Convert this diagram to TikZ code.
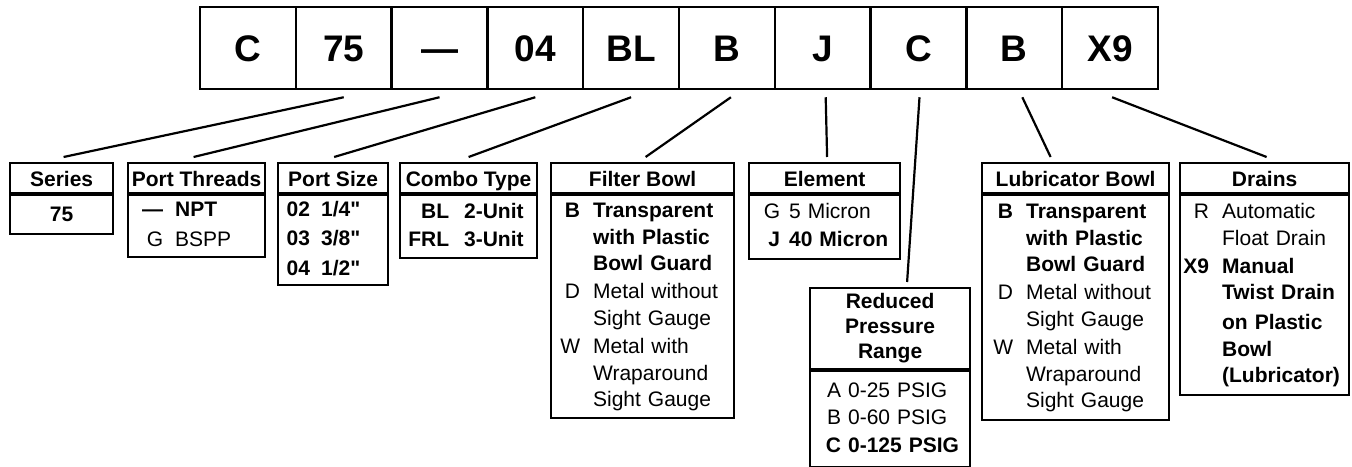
\documentclass[tikz,border=0pt]{standalone}
\usepackage{fontspec}
\setmainfont{Liberation Sans}[Ligatures=TeXOff]
\usepackage{array}
\usetikzlibrary{positioning}
\newcolumntype{R}[1]{>{\raggedleft\arraybackslash}p{#1}}
\newcommand\inchmark{\symbol{34}}

% rows shared by both bowl boxes
\newcommand\bowlrows{%
  \textbf{B} & \textbf{Transparent}\\
             & \textbf{with Plastic}\\
             & \textbf{Bowl Guard}\\[1.5pt]
  D & Metal without\\
    & Sight Gauge\\[1.5pt]
  W & Metal with\\
    & Wraparound\\
    & Sight Gauge}

\tikzset{
  codecell/.style={draw, line width=2.5pt, minimum width=95.8pt, minimum height=82pt,
    inner sep=0pt, text height=27pt, text depth=0pt, font=\fontsize{37}{37}\selectfont\bfseries},
  boxframe/.style={draw, line width=2.2pt, anchor=north west, minimum height=30pt,
    inner sep=0pt, align=center, font=\fontsize{21}{25}\selectfont\bfseries},
  boxhead/.style={boxframe, text height=17pt, text depth=0pt},
  boxbody/.style={draw, line width=2.2pt, anchor=north west, inner sep=0pt,
    align=left, font=\fontsize{21}{26.6}\selectfont},
  leader/.style={line width=2.2pt},
}

\begin{document}
\begin{tikzpicture}[x=1pt, y=-1pt]
	\useasboundingbox (0,0) rectangle (1352,466);

	% model code
	\foreach \t [count=\i] in {C,75,—,04,BL,B,J,C,B,X9}
		\node[codecell] (c\i) at ({200+95.8*(\i-0.5)},48) {\t};

	% series
	\node[boxhead, minimum width=103pt] (series) at (9,162) {Series};
	\node[boxbody, text width=103pt, minimum height=39pt, align=center] (seriesB) at (series.south west) {\textbf{75}};

	% port threads
	\node[boxhead, minimum width=137pt] (threads) at (127,162) {Port Threads};
	\node[boxbody, text width=137pt, minimum height=62pt] (threadsB) at (threads.south west) {%
		\begin{tabular}{@{}R{35pt}@{\hspace{12pt}}l@{}}
			\textbf{—} & \textbf{NPT}\\[3pt]
			G & BSPP
		\end{tabular}};

	% port size
	\node[boxhead, minimum width=110pt] (size) at (277,162) {Port Size};
	\node[boxbody, text width=110pt, minimum height=90pt] (sizeB) at (size.south west) {%
		\begin{tabular}{@{}R{32pt}@{\hspace{11pt}}l@{}}
			\textbf{02} & \textbf{1/4\inchmark}\\[3pt]
			\textbf{03} & \textbf{3/8\inchmark}\\[3pt]
			\textbf{04} & \textbf{1/2\inchmark}
		\end{tabular}};

	% combo type
	\node[boxhead, minimum width=137pt] (combo) at (399,162) {Combo Type};
	\node[boxbody, text width=137pt, minimum height=63pt] (comboB) at (combo.south west) {%
		\begin{tabular}{@{}R{49pt}@{\hspace{15pt}}l@{}}
			\textbf{BL} & \textbf{2-Unit}\\[1.5pt]
			\textbf{FRL} & \textbf{3-Unit}
		\end{tabular}};

	% filter bowl
	\node[boxhead, minimum width=183pt] (filter) at (550,162) {Filter Bowl};
	\node[boxbody, text width=183pt, minimum height=223pt] (filterB) at (filter.south west) {%
		\begin{tabular}{@{}R{29pt}@{\hspace{13pt}}l@{}}
			\bowlrows
		\end{tabular}};

	% element
	\node[boxhead, minimum width=151pt] (element) at (748,162) {Element};
	\node[boxbody, text width=151pt, minimum height=64pt] (elementB) at (element.south west) {%
		\begin{tabular}{@{}R{31pt}@{\hspace{9pt}}l@{}}
			G & 5 Micron\\[1.5pt]
			\textbf{J} & \textbf{40 Micron}
		\end{tabular}};

	% reduced pressure range
	\node[boxframe, minimum width=160pt, minimum height=81pt] (reduced) at (809,287) {Reduced\\Pressure\\Range};
	\node[boxbody, text width=160pt, minimum height=96pt] (reducedB) at (reduced.south west) {%
		\begin{tabular}{@{}R{31pt}@{\hspace{7pt}}l@{}}
			A & 0-25 PSIG\\[1pt]
			B & 0-60 PSIG\\[1pt]
			\textbf{C} & \textbf{0-125 PSIG}
		\end{tabular}};

	% lubricator bowl
	\node[boxhead, minimum width=187pt] (lubri) at (981,162) {Lubricator Bowl};
	\node[boxbody, text width=187pt, minimum height=225pt] (lubriB) at (lubri.south west) {%
		\begin{tabular}{@{}R{31pt}@{\hspace{13pt}}l@{}}
			\bowlrows
		\end{tabular}};

	% drains
	\node[boxhead, minimum width=169pt] (drains) at (1179,162) {Drains};
	\node[boxbody, text width=169pt, minimum height=200pt] (drainsB) at (drains.south west) {%
		\begin{tabular}{@{}R{29pt}@{\hspace{13pt}}l@{}}
			R & Automatic\\
			  & Float Drain\\[1.5pt]
			\textbf{X9} & \textbf{Manual}\\
			            & \textbf{Twist Drain}\\[3pt]
			            & \textbf{on Plastic}\\
			            & \textbf{Bowl}\\
			            & \textbf{(Lubricator)}
		\end{tabular}};

	% leaders from code letters to the boxes
	\foreach \i/\n/\sx/\ex in {2/series/0/2, 3/threads/0/-3, 4/size/0/1, 5/combo/0/0,
		6/filter/4/3, 7/element/3/2.5, 8/reduced/1/17, 9/lubri/8/-25, 10/drains/2/2}
		\draw[leader] ([xshift=\sx pt, yshift=-7pt]c\i.south) -- ([xshift=\ex pt, yshift=5pt]\n.north);
\end{tikzpicture}
\end{document}
